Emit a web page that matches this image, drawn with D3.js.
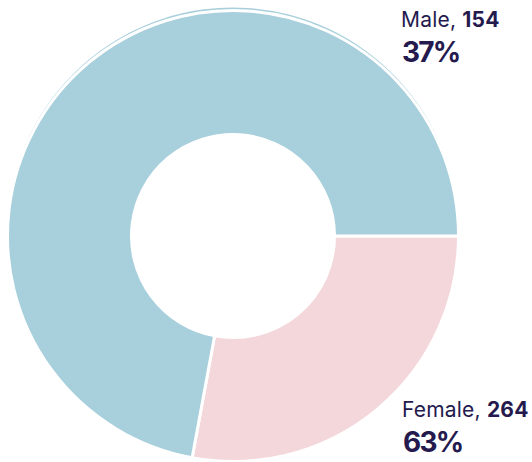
<!DOCTYPE html>
<html>
<head>
<meta charset="utf-8">
<script src="https://cdn.jsdelivr.net/npm/d3@7"></script>
<style>
  html, body { margin: 0; padding: 0; background: #fff; }
  svg { display: block; }
  .lbl { font-family: Inter, "Noto Sans", sans-serif; fill: #241a4e; }
</style>
</head>
<body>
<div id="chart"></div>
<script>
// Data
const categories = ["Male", "Female"];
const counts = [154, 264];
const percents = ["37%", "63%"];
// share of the ring each slice covers, as drawn
const sliceShare = [72.1, 27.9];
const colors = ["#a8cfdc", "#f4d7db"];

// Dimensions
const width = 532, height = 462;
const cx = 233, cy = 236;
const outerR = 225.5, innerR = 101.5;

const svg = d3.select("#chart").append("svg")
    .attr("width", width)
    .attr("height", height);

const g = svg.append("g")
    .attr("transform", `translate(${cx},${cy})`);

// female slice starts at 3 o'clock, male follows clockwise
const pie = d3.pie()
    .sort(null)
    .value(d => d.share)
    .startAngle(Math.PI / 2)
    .endAngle(Math.PI / 2 + Math.PI * 2);

const data = categories.map((c, i) => ({name: c, count: counts[i], pct: percents[i], share: sliceShare[i], color: colors[i]}));
const arcs = pie([data[1], data[0]]);

const arc = d3.arc().innerRadius(innerR).outerRadius(outerR);
const rim = d3.arc().innerRadius(outerR - 12).outerRadius(outerR);

// faint rim of the male slice peeking out on top
g.append("path")
    .datum(arcs.find(a => a.data.name === "Male"))
    .attr("transform", "translate(0,-3)")
    .attr("d", rim)
    .attr("fill", colors[0]);

g.selectAll(".slice")
    .data(arcs)
  .enter().append("path")
    .attr("class", "slice")
    .attr("d", arc)
    .attr("fill", d => d.data.color)
    .attr("stroke", "#fff")
    .attr("stroke-width", 3)
    .attr("stroke-linejoin", "round");

// Labels
const labelPos = {Male: [401, 27], Female: [402, 417]};

data.forEach(d => {
    const [x, y] = labelPos[d.name];
    const t = svg.append("text")
        .attr("class", "lbl")
        .attr("x", x)
        .attr("y", y)
        .style("font-size", "21px")
        .style("letter-spacing", "0.2px");
    t.append("tspan").text(d.name + ", ");
    t.append("tspan").attr("font-weight", 700).text(d.count);

    svg.append("text")
        .attr("class", "lbl")
        .attr("x", x + 1)
        .attr("y", y + 35)
        .attr("font-weight", 700)
        .style("font-size", "28px")
        .style("letter-spacing", "-1.8px")
        .text(d.pct);
});
</script>
</body>
</html>
